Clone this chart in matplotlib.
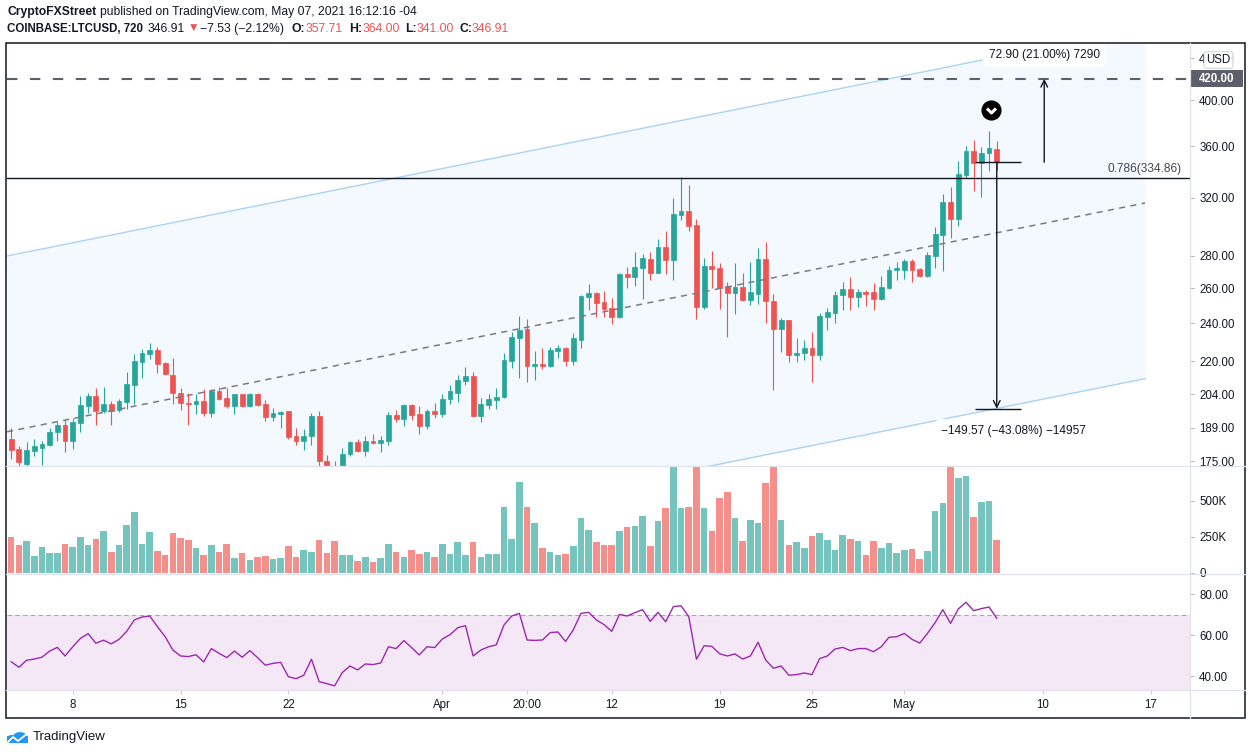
import numpy as np
import pandas as pd
import matplotlib
matplotlib.use('Agg')
import matplotlib.pyplot as plt
import matplotlib.dates as mdates
from matplotlib.patches import Rectangle, Circle
from matplotlib.lines import Line2D
from matplotlib.path import Path
from matplotlib.ticker import NullLocator, NullFormatter

plt.rcParams['font.family'] = ['Liberation Sans', 'DejaVu Sans']

# ---- data: LTCUSD 12h candles ----
dates = pd.date_range('2021-03-04 00:00', periods=129, freq='12h')

opens = [184.1, 180.0, 174.0, 179.3, 180.5, 181.7, 187.0, 190.2, 183.4, 191.2,
         198.8, 203.2, 196.5, 199.5, 196.8, 200.5, 208.5, 219.8, 223.9, 225.7,
         219.0, 213.2, 204.5, 200.0, 199.3, 200.8, 195.2, 205.5, 202.2, 198.6,
         204.0, 198.6, 204.1, 199.5, 193.6, 194.9, 196.1, 185.2, 183.4, 185.2,
         194.3, 175.2, 172.8, 171.5, 178.1, 182.9, 179.3, 183.3, 182.5, 183.3,
         194.5, 192.7, 199.0, 194.9, 189.7, 196.2, 194.9, 201.6, 204.7, 210.3,
         212.8, 194.1, 199.1, 201.3, 202.7, 220.2, 232.1, 236.8, 217.6, 218.6,
         217.6, 225.1, 226.7, 220.1, 230.9, 254.8, 257.2, 252.0, 248.5, 243.5,
         268.7, 266.9, 272.4, 278.0, 269.3, 285.8, 277.4, 307.6, 310.2, 300.5,
         249.2, 273.7, 272.4, 261.4, 257.2, 260.6, 253.2, 256.5, 277.8, 252.4,
         236.9, 241.7, 223.2, 224.4, 226.6, 223.2, 243.2, 245.9, 256.2, 259.3,
         254.6, 258.0, 257.6, 253.9, 260.2, 271.1, 271.1, 276.8, 271.7, 267.5,
         279.9, 293.7, 316.7, 304.7, 337.1, 355.9, 346.2, 354.3, 357.71]

highs = [188.7, 181.0, 182.9, 184.1, 183.3, 188.7, 191.4, 192.3, 193.0, 203.2,
         204.7, 207.0, 207.5, 200.8, 202.0, 214.7, 223.6, 226.2, 229.2, 227.2,
         219.4, 221.4, 206.8, 204.4, 203.9, 206.5, 206.3, 207.3, 206.8, 204.1,
         204.1, 204.6, 204.4, 201.3, 197.5, 196.3, 196.2, 188.9, 188.3, 195.5,
         196.5, 177.6, 175.1, 180.3, 183.4, 184.0, 185.3, 186.3, 185.3, 195.9,
         196.8, 199.3, 199.3, 198.6, 197.2, 199.9, 204.1, 208.4, 213.3, 217.1,
         214.7, 202.2, 204.1, 207.0, 224.1, 235.3, 243.9, 242.2, 225.1, 226.7,
         227.2, 228.2, 227.3, 234.8, 256.0, 262.6, 257.8, 258.4, 254.2, 269.3,
         273.0, 282.6, 281.3, 282.6, 291.1, 296.4, 319.6, 335.3, 329.5, 304.7,
         278.6, 283.2, 275.3, 264.0, 275.7, 269.5, 276.2, 285.1, 288.9, 256.7,
         242.9, 242.0, 232.0, 231.0, 235.3, 245.6, 248.4, 258.2, 263.8, 266.7,
         259.6, 259.0, 263.3, 267.3, 273.7, 275.9, 278.0, 278.0, 272.4, 282.8,
         299.4, 322.8, 328.1, 347.8, 360.0, 365.0, 359.2, 372.5, 364.0]

lows = [175.9, 172.0, 172.0, 177.0, 173.5, 181.3, 183.3, 178.9, 180.0, 187.3,
        195.5, 190.1, 195.5, 190.1, 195.8, 197.2, 199.4, 211.9, 221.2, 214.1,
        213.0, 199.7, 196.8, 190.3, 195.0, 194.1, 193.8, 201.4, 197.7, 195.0,
        197.9, 198.0, 198.6, 191.7, 191.7, 189.0, 184.0, 181.8, 179.6, 181.5,
        171.0, 170.5, 168.0, 169.5, 177.0, 178.9, 177.0, 182.0, 178.9, 181.7,
        191.4, 189.7, 192.3, 186.3, 188.6, 193.2, 193.6, 199.4, 200.3, 208.4,
        193.8, 191.4, 197.2, 197.2, 202.2, 216.7, 211.8, 209.8, 210.8, 216.2,
        217.1, 221.6, 217.6, 218.1, 226.7, 247.4, 243.5, 243.5, 239.4, 243.0,
        260.2, 261.4, 253.7, 265.0, 269.0, 268.8, 265.0, 304.0, 296.4, 242.6,
        248.0, 260.2, 248.0, 232.7, 245.3, 252.5, 250.5, 250.6, 240.2, 206.2,
        224.7, 219.8, 219.8, 220.4, 210.0, 220.4, 236.3, 240.1, 247.4, 247.4,
        248.9, 249.4, 247.4, 253.1, 259.6, 265.0, 265.6, 263.9, 266.7, 266.5,
        272.4, 270.5, 291.7, 299.8, 334.6, 324.9, 320.3, 340.0, 341.0]

closes = [179.6, 174.5, 179.6, 181.0, 182.1, 187.2, 190.2, 183.4, 191.4, 199.0,
          203.2, 196.5, 199.5, 196.5, 200.8, 208.6, 220.1, 224.3, 225.7, 218.8,
          213.5, 204.5, 200.0, 199.3, 200.8, 195.2, 205.5, 202.0, 198.6, 204.0,
          198.6, 204.1, 199.1, 193.6, 195.2, 195.7, 184.8, 183.4, 185.5, 194.3,
          174.9, 172.5, 171.5, 178.1, 182.9, 179.3, 183.3, 182.5, 183.7, 194.5,
          192.7, 199.0, 194.5, 189.7, 196.2, 194.9, 201.9, 205.3, 210.8, 212.8,
          194.1, 199.4, 201.9, 202.7, 220.6, 232.6, 236.3, 217.6, 218.6, 217.6,
          225.7, 226.7, 220.1, 231.9, 255.4, 257.2, 251.4, 248.0, 243.5, 268.7,
          266.9, 273.0, 278.6, 269.3, 285.8, 277.4, 308.3, 310.2, 299.8, 249.2,
          273.7, 271.7, 260.2, 257.2, 260.8, 253.2, 257.6, 277.8, 252.4, 236.9,
          241.7, 223.2, 224.4, 226.6, 223.2, 243.8, 246.4, 256.2, 259.3, 254.6,
          258.0, 256.8, 253.9, 260.8, 271.1, 272.4, 276.8, 271.1, 267.5, 280.5,
          294.3, 316.7, 304.7, 337.7, 355.9, 346.2, 354.3, 358.3, 346.91]

# volume in thousands of LTC
volumes_k = [248, 192, 220, 116, 178, 137, 137, 199, 178, 248,
             192, 234, 290, 144, 192, 331, 421, 199, 283, 151,
             123, 276, 241, 227, 171, 123, 192, 144, 199, 102,
             137, 88, 109, 116, 95, 102, 185, 109, 158, 144,
             227, 137, 220, 123, 123, 81, 109, 74, 102, 199,
             144, 109, 158, 130, 144, 109, 199, 130, 213, 123,
             213, 109, 130, 130, 456, 234, 630, 456, 345, 171,
             144, 123, 130, 185, 380, 296, 213, 192, 192, 290,
             317, 324, 394, 185, 359, 449, 800, 449, 456, 850,
             449, 290, 519, 560, 380, 220, 366, 345, 623, 800,
             366, 192, 213, 171, 255, 276, 227, 158, 262, 234,
             220, 123, 220, 171, 206, 137, 158, 164, 95, 151,
             428, 484, 780, 658, 672, 387, 491, 498, 227]

rsi = [47.1, 44.4, 47.8, 48.4, 49.3, 52.3, 54.1, 49.9, 54.4, 58.5,
       60.8, 56.1, 57.6, 55.8, 58.0, 61.9, 67.5, 68.9, 69.4, 64.2,
       59.3, 52.8, 49.9, 49.6, 50.5, 47.0, 53.5, 51.2, 49.1, 52.3,
       49.3, 52.5, 49.1, 45.4, 46.3, 46.8, 39.8, 38.8, 40.5, 48.3,
       37.4, 36.4, 35.3, 41.8, 45.0, 43.1, 46.0, 45.7, 46.5, 54.4,
       53.5, 57.4, 54.0, 50.4, 54.4, 54.0, 58.2, 60.3, 63.7, 64.7,
       49.9, 52.8, 54.4, 55.3, 65.0, 69.4, 70.7, 57.7, 57.5, 57.7,
       61.3, 61.6, 57.0, 62.6, 70.7, 71.2, 67.5, 65.2, 61.9, 70.2,
       69.4, 71.0, 72.5, 66.8, 71.2, 66.6, 74.0, 74.4, 69.1, 48.3,
       54.9, 54.6, 51.0, 49.9, 50.9, 48.4, 49.9, 56.6, 47.9, 43.9,
       45.0, 40.5, 40.8, 41.6, 40.8, 48.6, 49.9, 53.3, 54.1, 52.5,
       53.5, 53.5, 52.0, 54.4, 59.0, 59.3, 60.9, 58.0, 56.2, 60.9,
       66.2, 72.5, 65.8, 72.8, 76.1, 72.0, 73.0, 73.8, 68.3]

price_ticks = [175, 189, 204, 220, 240, 260, 280, 320, 360, 400, 440]
vol_ticks = [0, 250, 500]
vol_tick_labels = ['0', '250K', '500K']
rsi_ticks = [40, 60, 80]
time_ticks = ['2021-03-08 00:00', '2021-03-15 00:00', '2021-03-22 00:00', '2021-04-01 00:00',
              '2021-04-06 12:00', '2021-04-12 00:00', '2021-04-19 00:00', '2021-04-25 00:00',
              '2021-05-01 00:00', '2021-05-10 00:00', '2021-05-17 00:00']
time_tick_labels = ['8', '15', '22', 'Apr', '20:00', '12', '19', '25', 'May', '10', '17']

# drawings on the chart
channel_dates = ['2021-03-03 17:30', '2021-05-16 15:00']
channel_upper = [279.9, 472.4]
channel_mid = [187.2, 316.0]
channel_lower = [125.3, 211.4]
fib_level = 334.86
target_level = 420.0
measure_start = 346.91
measure_up = 72.90
measure_down = -149.57
up_label = '72.90 (21.00%) 7290'
down_label = '\u2212149.57 (\u221243.08%) \u221214957'
measure_span = ['2021-05-05 14:00', '2021-05-08 14:00']
down_arrow_date = '2021-05-07 00:00'
up_arrow_date = '2021-05-10 02:00'
icon_date, icon_price = '2021-05-06 15:00', 390.7

# ---- figure ----
W, H = 1253, 755
fig = plt.figure(figsize=(W / 100, H / 100), dpi=100)
fig.patch.set_facecolor('white')


def fx(px):
    return px / W


def fy(py):
    return 1 - py / H


L, R = 7, 1190
ax_p = fig.add_axes([fx(L), fy(466), fx(R - L), (466 - 44) / H])
ax_v = fig.add_axes([fx(L), fy(574), fx(R - L), (574 - 466) / H], sharex=ax_p)
ax_r = fig.add_axes([fx(L), fy(690), fx(R - L), (690 - 574) / H], sharex=ax_p)

x = mdates.date2num(dates)
o, h, lo, c = map(np.array, (opens, highs, lows, closes))
up = c >= o
candle_cols = np.where(up, '#26a69a', '#ef5350')
vol_cols = np.where(up, '#75c4bd', '#f58f8c')

TXT = '#131722'
GRID = '#e0e3eb'
FS = 8.3

# price pane
ax_p.set_yscale('log')
d0, d1 = mdates.date2num(pd.to_datetime(channel_dates))
ax_p.fill_between([d0, d1], channel_upper, channel_lower, color='#2196f3', alpha=0.05, lw=0, zorder=0)
ax_p.plot([d0, d1], channel_upper, color='#a9d2f5', lw=1.0, zorder=1)
ax_p.plot([d0, d1], channel_lower, color='#a9d2f5', lw=1.0, zorder=1)

ax_p.vlines(x, lo, h, colors=candle_cols, lw=0.8, zorder=2)
ax_p.bar(x, np.abs(c - o), bottom=np.minimum(o, c), width=0.31,
         color=candle_cols, edgecolor=candle_cols, lw=0.5, zorder=2)

ax_p.plot([d0, d1], channel_mid, color='#787b86', lw=1.1, dashes=(4, 3.5), zorder=3)
ax_p.axhline(fib_level, color=TXT, lw=1.0, zorder=3)
ax_p.annotate(f'0.786({fib_level:.2f})', xy=(0.993, fib_level), xycoords=ax_p.get_yaxis_transform(),
              xytext=(0, 2), textcoords='offset points', ha='right', va='bottom',
              fontsize=8.6, color='#434651', zorder=5)
ax_p.axhline(target_level, color='#5d606b', lw=1.5, dashes=(5, 6), zorder=3)

# measurement tool
m0, m1 = mdates.date2num(pd.to_datetime(measure_span))
low_level = measure_start + measure_down
high_level = measure_start + measure_up
ax_p.hlines([measure_start, low_level], m0, m1, color=TXT, lw=1.0, zorder=4)
xd = mdates.date2num(pd.Timestamp(down_arrow_date))
xu = mdates.date2num(pd.Timestamp(up_arrow_date))
arrow = dict(arrowstyle='->', color=TXT, lw=1.0, shrinkA=0, shrinkB=0, mutation_scale=12)
ax_p.annotate('', xy=(xd, low_level), xytext=(xd, measure_start), arrowprops=arrow, zorder=4)
ax_p.annotate('', xy=(xu, high_level), xytext=(xu, measure_start), arrowprops=arrow, zorder=4)

box = dict(boxstyle='round,pad=0.5', fc='white', ec='none')
ax_p.annotate(up_label, xy=(xu, high_level), xytext=(0, 17), textcoords='offset points',
              ha='center', va='center', fontsize=8.6, color=TXT, bbox=box, zorder=6)
ax_p.annotate(down_label, xy=(xd, low_level), xytext=(12, -16), textcoords='offset points',
              ha='center', va='center', fontsize=8.6, color=TXT, bbox=box, zorder=6)

# idea marker
xi = mdates.date2num(pd.Timestamp(icon_date))
ax_p.plot(xi, icon_price, 'o', ms=13.5, color='black', zorder=6)
chev = Path([(-1, 0.45), (0, -0.55), (1, 0.45)], [Path.MOVETO, Path.LINETO, Path.LINETO])
ax_p.plot(xi, icon_price, marker=chev, ms=6.5, mfc='none', mec='white', mew=2.2, zorder=7)

ax_p.set_ylim(173.1, 454.7)
ax_p.yaxis.set_minor_locator(NullLocator())
ax_p.yaxis.set_minor_formatter(NullFormatter())
ax_p.set_yticks(price_ticks)
ax_p.set_yticklabels([f'{v:.2f}' for v in price_ticks])

# 420 axis label
yt = ax_p.get_yaxis_transform()
ax_p.add_patch(Rectangle((1.0, target_level / 1.019), 0.045, target_level * 1.019 - target_level / 1.019,
                         transform=yt, fc='#5d606b', ec='none', clip_on=False, zorder=10))
ax_p.text(1.0076, target_level, f'{target_level:.2f}', transform=yt, ha='left', va='center',
          color='white', fontsize=FS, fontweight='bold', clip_on=False, zorder=11)

# volume pane
ax_v.bar(x, volumes_k, width=0.43, color=vol_cols, lw=0)
ax_v.set_ylim(-9, 741)
ax_v.set_yticks(vol_ticks)
ax_v.set_yticklabels(vol_tick_labels)

# RSI pane
ax_r.axhspan(30, 70, color='#9c27b0', alpha=0.1, lw=0)
ax_r.axhline(70, color='#787b86', alpha=0.6, lw=0.8, dashes=(4, 3))
ax_r.plot(x, rsi, color='#9c27b0', lw=1.0)
ax_r.set_ylim(33.3, 89.9)
ax_r.set_yticks(rsi_ticks)
ax_r.set_yticklabels([f'{v:.2f}' for v in rsi_ticks])

ax_r.set_xlim(mdates.date2num(pd.Timestamp('2021-03-03 17:30')),
              mdates.date2num(pd.Timestamp('2021-05-19 13:10')))
ax_r.set_xticks(mdates.date2num(pd.to_datetime(time_ticks)))
ax_r.set_xticklabels(time_tick_labels)

for ax in (ax_p, ax_v, ax_r):
    for s in ax.spines.values():
        s.set_visible(False)
    ax.yaxis.tick_right()
    ax.tick_params(axis='y', which='both', right=True, left=False, length=3, width=0.7,
                   color='#b2b5be', labelsize=FS, labelcolor=TXT, pad=3.6)
for ax in (ax_p, ax_v):
    ax.tick_params(axis='x', which='both', bottom=False, labelbottom=False)
ax_r.tick_params(axis='x', length=3, width=0.7, color='#c9ccd3', labelsize=FS, labelcolor=TXT, pad=3.5)

# pane separators and frame
for py in (466, 574, 690):
    fig.add_artist(Line2D([fx(6), fx(1245)], [fy(py), fy(py)], color=GRID, lw=0.9))
fig.add_artist(Line2D([fx(1190), fx(1190)], [fy(43), fy(718)], color=GRID, lw=0.9))
fig.add_artist(Rectangle((fx(6), fy(718)), fx(1245 - 6), (718 - 43) / H, transform=fig.transFigure,
                         fill=False, ec=TXT, lw=1.1))

# currency box (it covers most of the 440.00 label, as in the screenshot)
fig.text(fx(1218.5), fy(60), 'USD', ha='center', va='center', fontsize=FS, color=TXT,
         bbox=dict(boxstyle='round,pad=0.2', fc='white', ec='#d1d4dc', lw=0.8), zorder=20)

# header
fig.text(fx(7), fy(12.5), 'CryptoFXStreet', fontsize=8.7, fontweight='bold', color=TXT, va='center')
fig.text(fx(100), fy(12.5), 'published on TradingView.com, May 07, 2021 16:12:16 -04',
         fontsize=8.7, color=TXT, va='center')
RED = '#ef5350'
header2 = [(7, 'COINBASE:LTCUSD, 720', TXT, 'bold', 8.3), (148, f'{closes[-1]:.2f}', TXT, 'normal', 8.8),
           (188, '\u25bc', RED, 'normal', 8.4), (200, '\u22127.53 (\u22122.12%)', TXT, 'normal', 8.8),
           (292, 'O:', TXT, 'bold', 8.8), (306, f'{opens[-1]:.2f}', RED, 'normal', 8.8),
           (349, 'H:', TXT, 'bold', 8.8), (363, f'{highs[-1]:.2f}', RED, 'normal', 8.8),
           (405, 'L:', TXT, 'bold', 8.8), (417, f'{lows[-1]:.2f}', RED, 'normal', 8.8),
           (460, 'C:', TXT, 'bold', 8.8), (472, f'{closes[-1]:.2f}', RED, 'normal', 8.8)]
for px, s, col, wt, fsz in header2:
    fig.text(fx(px), fy(29), s, fontsize=fsz, fontweight=wt, color=col, va='center')

# TradingView logo
BLUE = '#2196f3'
fig.add_artist(Circle((fx(12), fy(738)), 5.0 / W, transform=fig.transFigure, fc=BLUE, ec='none'))
fig.add_artist(Circle((fx(20), fy(736)), 6.5 / W, transform=fig.transFigure, fc=BLUE, ec='none'))
fig.add_artist(Rectangle((fx(7), fy(743)), fx(21), 7 / H, transform=fig.transFigure, fc=BLUE, ec='none'))
fig.add_artist(Line2D([fx(7), fx(13), fx(18), fx(28)], [fy(743), fy(737), fy(741), fy(733)],
                      color='white', lw=1.3))
fig.text(fx(33), fy(737), 'TradingView', fontsize=9.5, color=TXT, va='center')

fig.savefig('out.png', dpi=100)
